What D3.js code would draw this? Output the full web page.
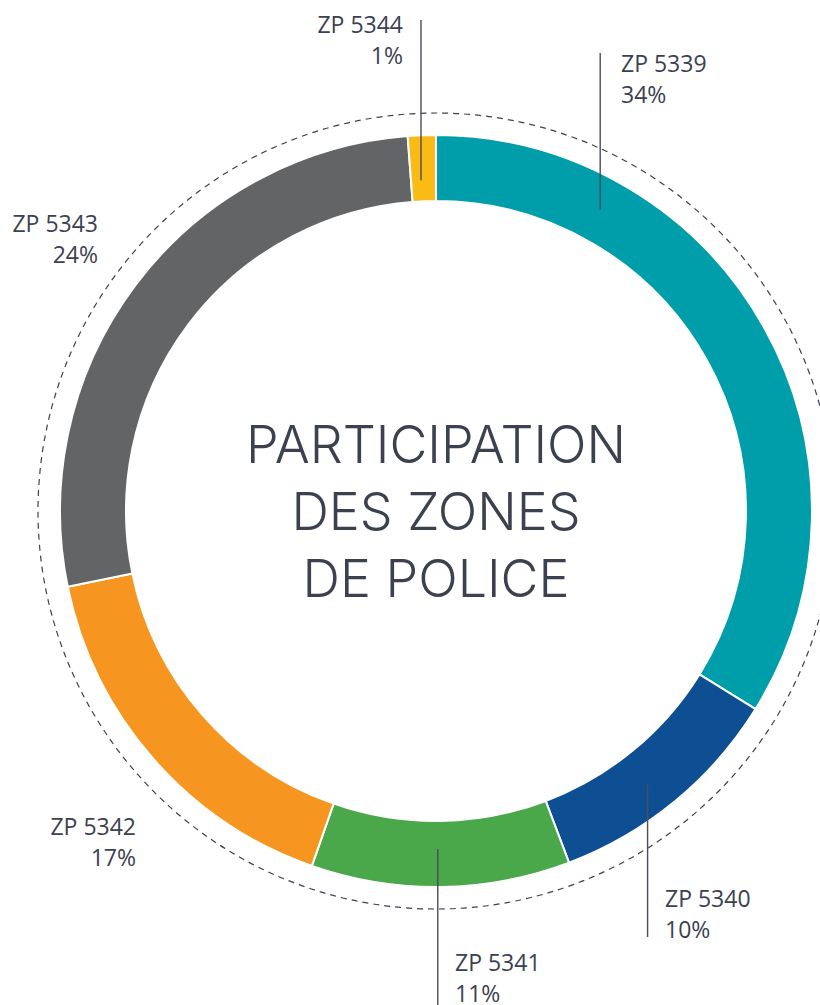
<!DOCTYPE html>
<html>
<head>
<meta charset="utf-8">
<script src="https://cdn.jsdelivr.net/npm/d3@7"></script>
<style>
  html, body { margin:0; padding:0; background:#fff; }
  svg { display:block; }
</style>
</head>
<body>
<svg id="chart" width="820" height="1005"></svg>
<script>
"use strict";

// data, in drawing order (clockwise from 12 o'clock)
const zones   = ['ZP 5339', 'ZP 5340', 'ZP 5341', 'ZP 5342', 'ZP 5343', 'ZP 5344'];
const shares  = [33.8, 10.4, 11.1, 16.4, 27.0, 1.2];   // arc sizes as drawn
const pctText = ['34%', '10%', '11%', '17%', '24%', '1%'];
const colors  = ['#009dab', '#0e4f93', '#4ba84a', '#f6951f', '#636466', '#fbbb16'];
const title   = ['PARTICIPATION', 'DES ZONES', 'DE POLICE'];

const W = 820, H = 1005;
const cx = 436, cy = 511;
const rOut = 376, rIn = 310, rDash = 398;
const ink = '#3c4150';

// label placement: leader angle (deg, false = none), leader radius, leader far end y, text x/y/anchor
const labelPos = [
  {lead: 28.6,  lr: 343, ly: 53,   x: 621, y: 72,  anchor: 'start'},
  {lead: 142.3, lr: 346, ly: 937,  x: 665, y: 907, anchor: 'start'},
  {lead: 179.7, lr: 338, ly: 1010, x: 455, y: 971, anchor: 'start'},
  {lead: false, x: 136, y: 835, anchor: 'end'},
  {lead: false, x: 98,  y: 232, anchor: 'end'},
  {lead: 357.4, lr: 331, ly: 20,   x: 403, y: 33,  anchor: 'end'},
];

const svg = d3.select('#chart');
const g = svg.append('g').attr('transform', `translate(${cx},${cy})`);

// dashed guide ring
g.append('circle')
  .attr('r', rDash)
  .attr('fill', 'none')
  .attr('stroke', ink)
  .attr('stroke-width', 1.2)
  .attr('stroke-dasharray', '6,5');

const pie = d3.pie().sort(null).value(d => d)(shares);
const arc = d3.arc().innerRadius(rIn).outerRadius(rOut);

g.selectAll('path.slice')
  .data(pie)
  .join('path')
  .attr('class', 'slice')
  .attr('d', arc)
  .attr('fill', (d, i) => colors[i])
  .attr('stroke', '#fff')
  .attr('stroke-width', 2)
  .attr('stroke-linejoin', 'miter');

// leaders + labels
pie.forEach((d, i) => {
  let lp = labelPos[i];
  if (lp.lead !== false) {
    let a = lp.lead * Math.PI / 180;
    let px = lp.lr * Math.sin(a), py = -lp.lr * Math.cos(a);
    g.append('line')
      .attr('x1', px).attr('y1', py)
      .attr('x2', px).attr('y2', lp.ly - cy)
      .attr('stroke', '#4a4d5a')
      .attr('stroke-width', 1.4);
  }
  let t = svg.append('text')
    .attr('x', lp.x).attr('y', lp.y)
    .attr('text-anchor', lp.anchor)
    .attr('fill', ink)
    .style('font-family', '"Open Sans", "Noto Sans", sans-serif')
    .style('font-size', '23px');
  t.append('tspan').attr('x', lp.x).text(zones[i]);
  t.append('tspan').attr('x', lp.x).attr('dy', 31).text(pctText[i]);
});

// centre title
svg.append('text')
  .attr('text-anchor', 'middle')
  .attr('fill', ink)
  .style('font-family', 'Inter, "Open Sans", sans-serif')
  .style('font-weight', 300)
  .style('font-size', '52px')
  .selectAll('tspan')
  .data(title)
  .join('tspan')
  .attr('x', cx)
  .attr('y', (d, i) => 463 + i * 67)
  .text(d => d);
</script>
</body>
</html>
